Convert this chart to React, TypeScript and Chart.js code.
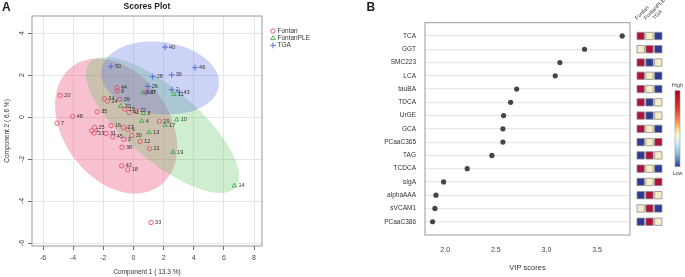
import React, { useEffect, useRef } from 'react';
import { Chart, registerables } from 'chart.js';

Chart.register(...registerables);

const FONT = '"Liberation Sans", Arial, Helvetica, sans-serif';

// ---------- Panel A: PLS-DA scores ----------
const fontanIds = ['44', '9', '20', '34', '24', '39', '35', '15', '41', '22', '48', '7', '29', '25', '1', '23', '16', '27', '6', '31', '45', '3', '30', '12', '38', '21', '42', '18', '33', '37'];
const fontanX = [-1.09, -1.09, -4.85, -1.93, -1.73, -0.91, -2.4, -0.58, -0.29, 0.17, -4.03, -5.07, 1.72, -2.59, -2.77, -2.61, -1.49, -0.67, -0.38, -1.82, -1.37, -0.64, -0.11, 0.44, -0.76, 1.06, -0.78, -0.38, 1.17, 0.82];
const fontanY = [1.4, 1.24, 1.03, 0.87, 0.76, 0.84, 0.25, 0.38, 0.22, 0.3, 0.03, -0.29, -0.21, -0.49, -0.65, -0.76, -0.41, -0.49, -0.59, -0.78, -0.94, -1.06, -0.87, -1.16, -1.44, -1.51, -2.32, -2.51, -5.02, 1.19];

const pleIds = ['32', '8', '4', '10', '17', '13', '19', '14', '11', '5'];
const pleX = [-0.84, 0.66, 0.55, 2.87, 2.1, 1.04, 2.63, 6.7, 2.69, 0.62];
const pleY = [0.52, 0.18, -0.19, -0.13, -0.38, -0.73, -1.67, -3.27, 1.08, 1.16];

const tgaIds = ['40', '46', '50', '28', '36', '26', '2', '43', '47'];
const tgaX = [2.1, 4.09, -1.49, 1.28, 2.54, 0.95, 2.54, 3.05, 0.85];
const tgaY = [3.33, 2.35, 2.41, 1.92, 2.01, 1.46, 1.3, 1.19, 1.16];

// confidence ellipses: [cx, cy, axis1x, axis1y, axis2x, axis2y]
const fontanEllipse = [-1.15, -0.43, 2.887, -2.851, -2.835, -1.478];
const pleEllipse = [1.93, -0.38, 4.837, -2.964, -1.542, -1.296];
const tgaEllipse = [1.77, 1.86, 3.9, -0.373, -0.315, -1.699];

const groupNames = ['Fontan', 'FontanPLE', 'TGA'];
const xTicksA = [-6, -4, -2, 0, 2, 4, 6, 8];
const yTicksA = [-6, -4, -2, 0, 2, 4];

// ---------- Panel B: VIP scores ----------
const vipNames = ['TCA', 'GGT', 'SMC223', 'LCA', 'tauBA', 'TDCA', 'UrGE', 'GCA', 'PCaaC365', 'TAG', 'TCDCA', 'sIgA', 'alphaAAA', 'sVCAM1', 'PCaaC386'];
const vipScores = [3.749, 3.377, 3.133, 3.087, 2.706, 2.646, 2.577, 2.57, 2.57, 2.461, 2.217, 1.984, 1.908, 1.898, 1.875];
const vipTicks = [2.0, 2.5, 3.0, 3.5];
// relative level per group: 1 high, 0 middle, -1 low
const heatFontan = [1, 0, 1, 1, 1, 1, 1, 1, -1, -1, 1, -1, -1, 0, -1];
const heatFontanPLE = [0, 1, -1, 0, 0, -1, -1, 0, 0, 1, 0, 0, 1, 1, 1];
const heatTGA = [-1, -1, 0, -1, -1, 0, 0, -1, 1, 0, -1, 1, 0, -1, 0];

const RED = '#e8506e';
const GREEN = '#3fae47';
const BLUE = '#4a66dd';

function drawMarker(ctx: CanvasRenderingContext2D, style: string, x: number, y: number, color: string) {
  ctx.save();
  ctx.strokeStyle = color;
  ctx.lineWidth = 0.9;
  ctx.beginPath();
  if (style === 'circle') {
    ctx.arc(x, y, 2.2, 0, Math.PI * 2);
  } else if (style === 'triangle') {
    const r = 2.6;
    ctx.moveTo(x, y - r);
    ctx.lineTo(x + r * 0.866, y + r * 0.5);
    ctx.lineTo(x - r * 0.866, y + r * 0.5);
    ctx.closePath();
  } else {
    ctx.moveTo(x - 3, y);
    ctx.lineTo(x + 3, y);
    ctx.moveTo(x, y - 3);
    ctx.lineTo(x, y + 3);
  }
  ctx.stroke();
  ctx.restore();
}

const ellipsePlugin = {
  id: 'ellipses',
  beforeDatasetsDraw(chart: any) {
    const { ctx, chartArea, scales } = chart;
    const list: [number[], string][] = [
      [fontanEllipse, 'rgba(236,92,128,0.38)'],
      [pleEllipse, 'rgba(96,196,96,0.3)'],
      [tgaEllipse, 'rgba(96,118,226,0.32)'],
    ];
    ctx.save();
    ctx.beginPath();
    ctx.rect(chartArea.left, chartArea.top, chartArea.right - chartArea.left, chartArea.bottom - chartArea.top);
    ctx.clip();
    for (const [e, col] of list) {
      ctx.beginPath();
      for (let k = 0; k <= 120; k++) {
        const t = (k / 120) * Math.PI * 2;
        const dx = e[0] + e[2] * Math.cos(t) + e[4] * Math.sin(t);
        const dy = e[1] + e[3] * Math.cos(t) + e[5] * Math.sin(t);
        const px = scales.x.getPixelForValue(dx);
        const py = scales.y.getPixelForValue(dy);
        if (k === 0) ctx.moveTo(px, py);
        else ctx.lineTo(px, py);
      }
      ctx.closePath();
      ctx.fillStyle = col;
      ctx.fill();
    }
    ctx.restore();
  },
};

const decoAPlugin = {
  id: 'decoA',
  afterDatasetsDraw(chart: any) {
    const { ctx } = chart;
    ctx.save();
    ctx.font = `5.5px ${FONT}`;
    ctx.fillStyle = '#333';
    ctx.textAlign = 'left';
    ctx.textBaseline = 'middle';
    chart.data.datasets.forEach((ds: any, di: number) => {
      const meta = chart.getDatasetMeta(di);
      meta.data.forEach((el: any, i: number) => {
        ctx.fillText(ds.data[i].id, el.x + 4, el.y);
      });
    });
    ctx.restore();
  },
  afterDraw(chart: any) {
    const { ctx, chartArea, scales } = chart;
    ctx.save();
    // frame
    ctx.strokeStyle = '#9a9a9a';
    ctx.lineWidth = 1;
    ctx.strokeRect(chartArea.left, chartArea.top, chartArea.right - chartArea.left, chartArea.bottom - chartArea.top);
    // y tick labels (rotated)
    ctx.fillStyle = '#444';
    ctx.font = `7px ${FONT}`;
    ctx.textAlign = 'center';
    ctx.textBaseline = 'middle';
    for (const v of yTicksA) {
      const py = scales.y.getPixelForValue(v);
      ctx.save();
      ctx.translate(22, py);
      ctx.rotate(-Math.PI / 2);
      ctx.fillText(String(v), 0, 0);
      ctx.restore();
    }
    // title
    ctx.fillStyle = '#222';
    ctx.font = `bold 8.5px ${FONT}`;
    ctx.fillText('Scores Plot', (chartArea.left + chartArea.right) / 2, 6.5);
    ctx.font = `bold 12px ${FONT}`;
    ctx.textAlign = 'left';
    ctx.fillText('A', 2, 7.5);
    // legend
    const styles = ['circle', 'triangle', 'cross'];
    const cols = [RED, GREEN, BLUE];
    const rows = [31, 38.3, 45.3];
    ctx.font = `6.5px ${FONT}`;
    ctx.fillStyle = '#333';
    groupNames.forEach((g, i) => {
      drawMarker(ctx, styles[i], 273, rows[i], cols[i]);
      ctx.fillText(g, 277.5, rows[i]);
    });
    ctx.restore();
  },
};

const decoBPlugin = {
  id: 'decoB',
  afterDraw(chart: any) {
    const { ctx, chartArea } = chart;
    ctx.save();
    ctx.strokeStyle = '#9a9a9a';
    ctx.lineWidth = 1;
    ctx.strokeRect(chartArea.left, chartArea.top, chartArea.right - chartArea.left, chartArea.bottom - chartArea.top);
    ctx.fillStyle = '#222';
    ctx.font = `bold 12px ${FONT}`;
    ctx.textAlign = 'left';
    ctx.textBaseline = 'middle';
    ctx.fillText('B', 26.5, 7.5);
    ctx.restore();
  },
};

const colorBarPlugin = {
  id: 'colorBar',
  afterDraw(chart: any) {
    const { ctx } = chart;
    const x = 45, y0 = 90.7, w = 5, h = 76;
    ctx.save();
    const g = ctx.createLinearGradient(0, y0, 0, y0 + h);
    g.addColorStop(0, '#a50026');
    g.addColorStop(0.2, '#d73027');
    g.addColorStop(0.35, '#f46d43');
    g.addColorStop(0.45, '#fdae61');
    g.addColorStop(0.52, '#fee090');
    g.addColorStop(0.58, '#f5f5d0');
    g.addColorStop(0.66, '#e0f3f8');
    g.addColorStop(0.76, '#abd9e9');
    g.addColorStop(0.86, '#74add1');
    g.addColorStop(0.93, '#4575b4');
    g.addColorStop(1, '#313695');
    ctx.fillStyle = g;
    ctx.fillRect(x, y0, w, h);
    ctx.strokeStyle = '#999';
    ctx.lineWidth = 0.6;
    ctx.strokeRect(x, y0, w, h);
    ctx.fillStyle = '#444';
    ctx.font = `5.5px ${FONT}`;
    ctx.textAlign = 'center';
    ctx.textBaseline = 'middle';
    ctx.fillText('High', x + w / 2, 85);
    ctx.fillText('Low', x + w / 2, 173);
    ctx.restore();
  },
};

function heatColor(v: number) {
  if (v > 0) return '#b0123b';
  if (v < 0) return '#2f3a94';
  return '#f6eec6';
}

export default function App() {
  const refA = useRef<HTMLCanvasElement>(null);
  const refB = useRef<HTMLCanvasElement>(null);
  const refH = useRef<HTMLCanvasElement>(null);

  useEffect(() => {
    const tickFont = { family: FONT, size: 7 };
    const mk = (ids: string[], xs: number[], ys: number[]) => xs.map((x, i) => ({ x, y: ys[i], id: ids[i] }));

    const chartA = new Chart(refA.current as HTMLCanvasElement, {
      type: 'scatter',
      data: {
        datasets: [
          { label: groupNames[0], data: mk(fontanIds, fontanX, fontanY), pointStyle: 'circle', pointRadius: 2.2, borderColor: RED, backgroundColor: 'rgba(0,0,0,0)', borderWidth: 0.9 },
          { label: groupNames[1], data: mk(pleIds, pleX, pleY), pointStyle: 'triangle', pointRadius: 2.6, borderColor: GREEN, backgroundColor: 'rgba(0,0,0,0)', borderWidth: 0.9 },
          { label: groupNames[2], data: mk(tgaIds, tgaX, tgaY), pointStyle: 'cross', pointRadius: 3, borderColor: BLUE, backgroundColor: 'rgba(0,0,0,0)', borderWidth: 0.9 },
        ] as any,
      },
      options: {
        responsive: false,
        animation: false,
        devicePixelRatio: 1,
        layout: { padding: { top: 16, right: 78, left: 0, bottom: 0 } },
        plugins: { legend: { display: false }, tooltip: { enabled: false }, title: { display: false } },
        scales: {
          x: {
            type: 'linear',
            min: -6.73,
            max: 8.53,
            afterBuildTicks: (s: any) => { s.ticks = xTicksA.map((v) => ({ value: v })); },
            afterFit: (s: any) => { s.height = 31; },
            ticks: { font: tickFont, color: '#444', padding: 3.5 },
            grid: { color: '#e6e6e6', tickColor: '#666', tickLength: 4, lineWidth: 1 },
            border: { display: false },
            title: { display: true, text: 'Component 1 ( 13.3 %)', font: { family: FONT, size: 6.5 }, color: '#333', padding: { top: 0, bottom: 1 } },
          },
          y: {
            type: 'linear',
            min: -6.14,
            max: 4.81,
            afterBuildTicks: (s: any) => { s.ticks = yTicksA.map((v) => ({ value: v })); },
            afterFit: (s: any) => { s.width = 32; },
            ticks: { display: false },
            grid: { color: '#e6e6e6', tickColor: '#666', tickLength: 4, lineWidth: 1 },
            border: { display: false },
            title: { display: true, text: 'Component 2 ( 6.6 %)', font: { family: FONT, size: 6.5 }, color: '#333', padding: { top: 3, bottom: 0 } },
          },
        },
      } as any,
      plugins: [ellipsePlugin, decoAPlugin],
    });

    const chartB = new Chart(refB.current as HTMLCanvasElement, {
      type: 'scatter',
      data: {
        datasets: [
          { data: vipScores.map((v, i) => ({ x: v, y: i })), pointRadius: 2.6, backgroundColor: '#454545', borderColor: '#454545', borderWidth: 0 },
        ],
      },
      options: {
        responsive: false,
        animation: false,
        devicePixelRatio: 1,
        layout: { padding: { top: 22.7, right: 55, left: 0, bottom: 0 } },
        plugins: { legend: { display: false }, tooltip: { enabled: false } },
        scales: {
          x: {
            type: 'linear',
            min: 1.8,
            max: 3.826,
            afterBuildTicks: (s: any) => { s.ticks = vipTicks.map((v) => ({ value: v })); },
            afterFit: (s: any) => { s.height = 42; },
            ticks: { font: { family: FONT, size: 7 }, color: '#444', padding: 10.8, callback: (v: any) => Number(v).toFixed(1) },
            grid: { display: false, drawTicks: false },
            border: { display: false },
            title: { display: true, text: 'VIP scores', font: { family: FONT, size: 7.5 }, color: '#333', padding: { top: 0, bottom: 4.5 } },
          },
          y: {
            type: 'linear',
            min: -1,
            max: 15,
            reverse: true,
            afterBuildTicks: (s: any) => { s.ticks = vipNames.map((_, i) => ({ value: i })); },
            afterFit: (s: any) => { s.width = 85; },
            ticks: { font: { family: FONT, size: 6.5 }, color: '#333', padding: 9, autoSkip: false, callback: (v: any) => vipNames[v] },
            grid: { color: '#e8e8e8', lineWidth: 1.2, drawTicks: false },
            border: { display: false },
          },
        },
      } as any,
      plugins: [decoBPlugin],
    });

    const heatData: any[] = [];
    const cols = [heatFontan, heatFontanPLE, heatTGA];
    cols.forEach((arr, c) => arr.forEach((v, r) => heatData.push({ x: groupNames[c], y: r, v })));

    const chartH = new Chart(refH.current as HTMLCanvasElement, {
      type: 'scatter',
      data: {
        datasets: [
          {
            data: heatData,
            pointStyle: 'rect',
            pointRadius: 5.2,
            backgroundColor: (ctx: any) => heatColor(ctx.raw ? ctx.raw.v : 0),
            borderColor: '#8c8c8c',
            borderWidth: 0.8,
            clip: false,
          },
        ] as any,
      },
      options: {
        responsive: false,
        animation: false,
        devicePixelRatio: 1,
        layout: { padding: { top: 0, right: 22.3, left: 6.3, bottom: 42 } },
        plugins: { legend: { display: false }, tooltip: { enabled: false } },
        scales: {
          x: {
            type: 'category',
            labels: groupNames,
            position: 'top',
            offset: true,
            afterFit: (s: any) => { s.height = 22.7; s.paddingLeft = 0; s.paddingRight = 0; },
            ticks: { font: { family: FONT, size: 5.5 }, color: '#333', padding: 1.5, autoSkip: false, minRotation: 45, maxRotation: 45 },
            grid: { display: false, drawTicks: false },
            border: { display: false },
          },
          y: { type: 'linear', min: -1, max: 15, reverse: true, display: false },
        },
      } as any,
      plugins: [colorBarPlugin],
    });

    return () => {
      chartA.destroy();
      chartB.destroy();
      chartH.destroy();
    };
  }, []);

  return (
    <div style={{ position: 'absolute', left: 0, top: 0, width: 685, height: 277, background: '#fff', overflow: 'hidden' }}>
      <canvas ref={refA} width={340} height={277} style={{ position: 'absolute', left: 0, top: 0, width: 340, height: 277 }} />
      <canvas ref={refB} width={345} height={277} style={{ position: 'absolute', left: 340, top: 0, width: 345, height: 277 }} />
      <canvas ref={refH} width={55} height={277} style={{ position: 'absolute', left: 630, top: 0, width: 55, height: 277 }} />
    </div>
  );
}
